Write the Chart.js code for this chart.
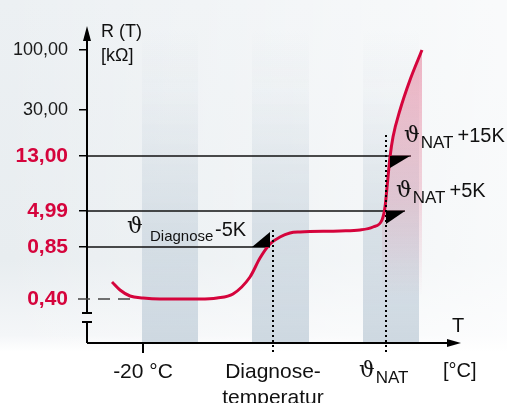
<!DOCTYPE html>
<html>
<head>
<meta charset="utf-8">
<script src="https://cdn.jsdelivr.net/npm/chart.js@4.4.1/dist/chart.umd.min.js"></script>
<style>
html, body { margin: 0; padding: 0; }
body {
    width: 507px; height: 403px; overflow: hidden;
    background:
        linear-gradient(to right, rgba(255,255,255,0) 0%, rgba(255,255,255,0.7) 100%),
        linear-gradient(to bottom, #ecf0f3 0px, #e8edf0 260px, #f4f6f8 335px, #ffffff 352px);
}
canvas { display: block; }
</style>
</head>
<body>
<canvas id="chart" width="507" height="403"></canvas>
<script>
// Kennlinie R(T): x = Temperatur (Skaleneinheiten), y = Lage auf der R-Achse
const curveX = [25, 33, 43, 56, 73, 113, 130, 146, 163, 173, 183, 193, 203, 213, 253, 273, 286, 295, 298, 301, 303, 306, 313, 323, 335];
const curveY = [61, 53, 47, 45, 44, 44, 45, 49, 66, 85, 99, 106, 110, 111, 112, 113, 116, 123, 136, 166, 186, 206, 233, 263, 293];
const fillFromX = 295;

// R-Achse (nicht linear): Lage und Beschriftung
const yTickPos = [44, 96, 132, 187, 233, 293];
const yTickLabels = ['0,40', '0,85', '4,99', '13,00', '30,00', '100,00'];
const yTickRed = [true, true, true, true, false, false];

// T-Achse
const xTickPos = [56, 186, 299];
const xTickLabels = ['-20 °C', ['Diagnose-', 'temperatur'], ''];

// graue Temperaturbereiche
const bandStart = [55, 165, 276];
const bandEnd = [111, 222, 332];

// Schaltschwellen (waagrechte Linien)
const refLevel = [187, 132, 96];
const refEnd = [324, 318, 183];

const RED = '#d5043c';
Chart.defaults.font.family = "'Liberation Sans', Arial, Helvetica, sans-serif";
Chart.defaults.color = '#1a1a1a';

const curvePts = curveX.map((x, i) => ({ x: x, y: curveY[i] }));
const fillPts = curvePts.filter(p => p.x >= fillFromX);

// Text mit Index (z.B. ϑ NAT)
function thetaText(ctx, x, base, sub, rest, subSize, restSize, restGap) {
    ctx.font = "22px 'DejaVu Serif', 'Liberation Serif', serif";
    ctx.fillText('ϑ', x, base);
    let w = ctx.measureText('ϑ').width;
    ctx.font = subSize + "px 'Liberation Sans', Arial, sans-serif";
    ctx.fillText(sub, x + w + 1, base + 6);
    let w2 = ctx.measureText(sub).width;
    if (rest) {
        ctx.font = restSize + "px 'Liberation Sans', Arial, sans-serif";
        ctx.fillText(rest, x + w + 1 + w2 + restGap, base);
    }
}

const decor = {
    id: 'decor',
    beforeDatasetsDraw(chart) {
        const { ctx, chartArea: a, scales: { x, y } } = chart;
        ctx.save();
        // Bereiche
        const g = ctx.createLinearGradient(0, a.top, 0, a.bottom);
        g.addColorStop(0, 'rgba(203,214,223,0)');
        g.addColorStop(0.2, 'rgba(203,214,223,0.12)');
        g.addColorStop(0.65, 'rgba(203,214,223,0.7)');
        g.addColorStop(1, 'rgba(203,214,223,0.95)');
        ctx.fillStyle = g;
        bandStart.forEach((s, i) => {
            const x0 = x.getPixelForValue(s), x1 = x.getPixelForValue(bandEnd[i]);
            ctx.fillRect(x0, a.top, x1 - x0, a.bottom - a.top);
        });
        // Schwellen
        ctx.strokeStyle = '#111';
        ctx.lineWidth = 1.4;
        refLevel.forEach((lv, i) => {
            const py = y.getPixelForValue(lv);
            ctx.beginPath();
            ctx.moveTo(a.left, py);
            ctx.lineTo(x.getPixelForValue(refEnd[i]), py);
            ctx.stroke();
        });
        ctx.restore();
    },
    afterDraw(chart) {
        const { ctx, chartArea: a, scales: { x, y } } = chart;
        ctx.save();
        ctx.fillStyle = '#000';
        ctx.strokeStyle = '#000';

        // R-Achse mit Bruch und Pfeil
        ctx.lineWidth = 2;
        const ax = a.left;
        ctx.beginPath();
        ctx.moveTo(ax, a.bottom); ctx.lineTo(ax, a.bottom - 21);
        ctx.moveTo(ax - 5, a.bottom - 21); ctx.lineTo(ax + 5, a.bottom - 21);
        ctx.moveTo(ax - 5, a.bottom - 30); ctx.lineTo(ax + 5, a.bottom - 30);
        ctx.moveTo(ax, a.bottom - 30); ctx.lineTo(ax, a.top + 8);
        ctx.stroke();
        ctx.beginPath();
        ctx.moveTo(ax, a.top - 4); ctx.lineTo(ax - 4, a.top + 11); ctx.lineTo(ax + 4, a.top + 11);
        ctx.closePath(); ctx.fill();

        // T-Achse mit Pfeil
        ctx.beginPath();
        ctx.moveTo(ax, a.bottom); ctx.lineTo(a.right - 12, a.bottom);
        ctx.stroke();
        ctx.beginPath();
        ctx.moveTo(a.right - 1, a.bottom); ctx.lineTo(a.right - 15, a.bottom - 4); ctx.lineTo(a.right - 15, a.bottom + 4);
        ctx.closePath(); ctx.fill();

        // 0,40 gestrichelt
        const p40 = y.getPixelForValue(yTickPos[0]);
        ctx.strokeStyle = '#444';
        ctx.lineWidth = 1.5;
        ctx.setLineDash([12, 8]);
        ctx.beginPath();
        ctx.moveTo(ax - 9, p40); ctx.lineTo(x.getPixelForValue(50), p40);
        ctx.stroke();

        // gepunktete Linien
        ctx.strokeStyle = '#000';
        ctx.lineWidth = 2;
        ctx.setLineDash([2, 3]);
        [[xTickPos[1], 113], [xTickPos[2], 208]].forEach(([tv, top]) => {
            const px = Math.round(x.getPixelForValue(tv));
            ctx.beginPath();
            ctx.moveTo(px, y.getPixelForValue(top)); ctx.lineTo(px, a.bottom + 12);
            ctx.stroke();
        });
        ctx.setLineDash([]);

        // Dreiecke an den Schwellen
        const tri = (pts) => { ctx.beginPath(); ctx.moveTo(pts[0][0], pts[0][1]); pts.slice(1).forEach(p => ctx.lineTo(p[0], p[1])); ctx.closePath(); ctx.fill(); };
        const y13 = y.getPixelForValue(refLevel[0]), y5 = y.getPixelForValue(refLevel[1]), y85 = y.getPixelForValue(refLevel[2]);
        tri([[390, y13], [410, y13], [390, y13 + 12]]);
        tri([[386, y5], [405, y5], [386, y5 + 13]]);
        tri([[252, y85], [270, y85], [270, y85 - 15]]);

        // Beschriftungen
        ctx.fillStyle = '#111';
        ctx.textBaseline = 'alphabetic';
        ctx.textAlign = 'left';
        ctx.font = "18px 'Liberation Sans', Arial, sans-serif";
        ctx.fillText('R (T)', 101, 37);
        ctx.fillText('[kΩ]', 101, 61);
        ctx.font = "20px 'Liberation Sans', Arial, sans-serif";
        ctx.fillText('T', 452, 332);
        ctx.fillText('[°C]', 443, 377);

        thetaText(ctx, 359, 377, 'NAT', '', 17, 0, 0);
        thetaText(ctx, 404, 142, 'NAT', '+15K', 17, 20, 4);
        thetaText(ctx, 396, 197, 'NAT', '+5K', 17, 20, 4);

        ctx.font = "22px 'DejaVu Serif', 'Liberation Serif', serif";
        ctx.fillText('ϑ', 127, 233);
        ctx.font = "15px 'Liberation Sans', Arial, sans-serif";
        ctx.fillText('Diagnose', 150, 241);
        ctx.font = "20px 'Liberation Sans', Arial, sans-serif";
        ctx.fillText('-5K', 215, 236);
        ctx.restore();
    }
};

const ctx = document.getElementById('chart').getContext('2d');
const chart = new Chart(ctx, {
    type: 'line',
    data: {
        datasets: [
            {
                data: curvePts,
                borderColor: RED,
                borderWidth: 3,
                pointRadius: 0,
                cubicInterpolationMode: 'monotone',
                fill: false,
                order: 0
            },
            {
                data: fillPts,
                borderWidth: 0,
                borderColor: 'rgba(0,0,0,0)',
                pointRadius: 0,
                cubicInterpolationMode: 'monotone',
                fill: 'start',
                backgroundColor: (c) => {
                    const a = c.chart.chartArea;
                    if (!a) return 'rgba(220,60,100,0.3)';
                    const g = c.chart.ctx.createLinearGradient(0, a.top, 0, a.bottom);
                    g.addColorStop(0, 'rgba(222,70,110,0.42)');
                    g.addColorStop(0.55, 'rgba(222,90,125,0.22)');
                    g.addColorStop(0.85, 'rgba(222,110,140,0)');
                    g.addColorStop(1, 'rgba(222,110,140,0)');
                    return g;
                },
                order: 1
            }
        ]
    },
    options: {
        responsive: false,
        animation: false,
        devicePixelRatio: 1,
        layout: { padding: { top: 30, right: 45, left: 0, bottom: 0 } },
        plugins: { legend: { display: false }, tooltip: { enabled: false } },
        scales: {
            x: {
                type: 'linear',
                min: 0,
                max: 375,
                afterFit: (s) => { s.height = 60; },
                afterBuildTicks: (s) => { s.ticks = xTickPos.map(v => ({ value: v })); },
                border: { display: false },
                grid: {
                    drawOnChartArea: false,
                    drawTicks: true,
                    tickLength: 10,
                    lineWidth: 2,
                    color: (c) => c.index === 0 ? '#000' : 'rgba(0,0,0,0)'
                },
                ticks: {
                    autoSkip: false,
                    maxRotation: 0,
                    padding: 7,
                    color: '#111',
                    font: { size: 21, lineHeight: 1.2 },
                    callback: (v, i) => xTickLabels[i]
                }
            },
            y: {
                type: 'linear',
                min: 0,
                max: 313,
                afterFit: (s) => { s.width = 87; },
                afterBuildTicks: (s) => { s.ticks = yTickPos.map(v => ({ value: v })); },
                border: { display: false },
                grid: {
                    drawOnChartArea: false,
                    drawTicks: true,
                    tickLength: 8,
                    lineWidth: 1.5,
                    color: (c) => c.index === 0 ? 'rgba(0,0,0,0)' : '#000'
                },
                ticks: {
                    autoSkip: false,
                    padding: 11,
                    color: (c) => yTickRed[c.index] ? RED : '#1a1a1a',
                    font: (c) => yTickRed[c.index] ? { size: 21, weight: 'bold' } : { size: 18 },
                    callback: (v, i) => yTickLabels[i]
                }
            }
        }
    },
    plugins: [decor]
});
</script>
</body>
</html>
